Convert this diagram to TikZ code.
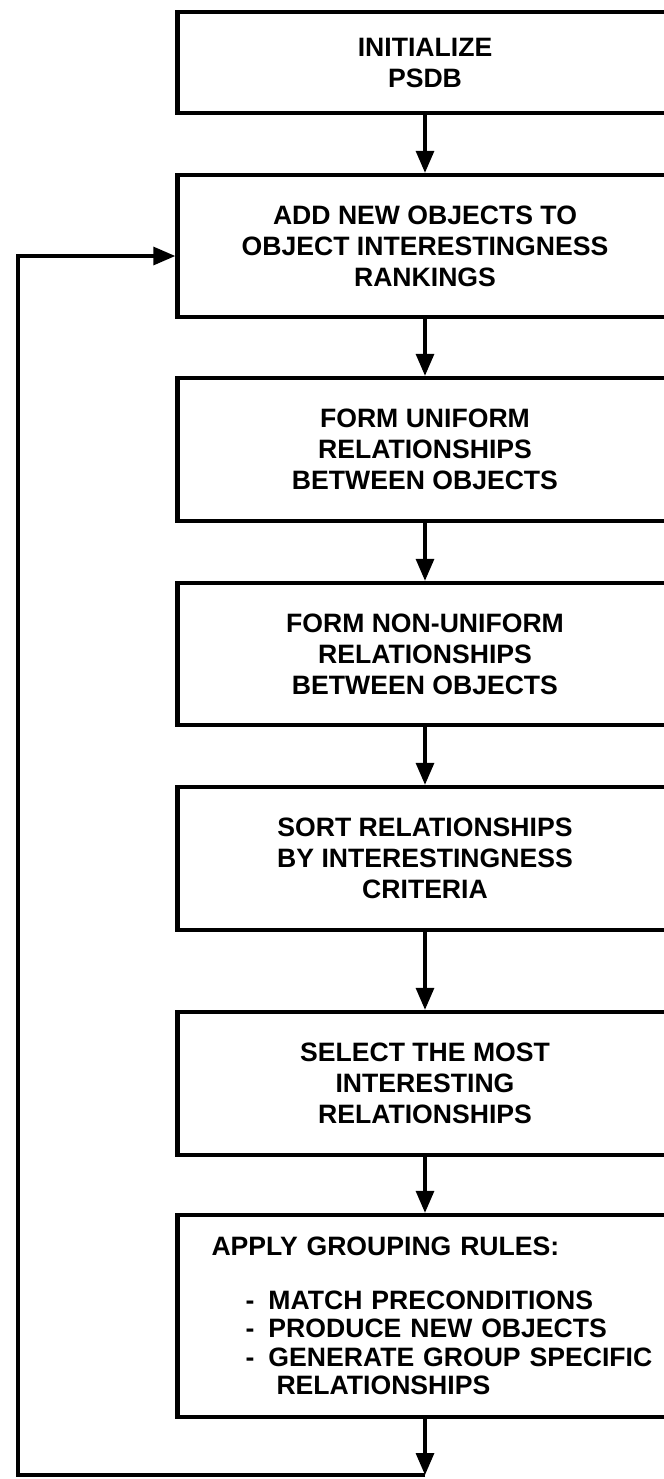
\documentclass[tikz,border=0pt]{standalone}
\usepackage{fontspec}
\setmainfont{Liberation Sans}
\usetikzlibrary{arrows.meta}

\newcommand{\grpitem}[1]{\mbox{\hspace*{17pt}\makebox[11.5pt][l]{-}#1}}

\begin{document}
\begin{tikzpicture}[x=0.5pt, y=-0.5pt,
	box/.style={draw, line width=2.2pt, minimum width=247.5pt, align=center, inner sep=0pt,
		font=\bfseries\fontsize{13.3}{15.5}\selectfont},
	flow/.style={line width=1.6pt, -{Triangle[length=11pt, width=9pt]}}]
	\clip (0,0) rectangle (664,1479);
	
	\node[box, minimum height=50.5pt] (init) at (425,62.5) {INITIALIZE\\PSDB};
	\node[box, minimum height=71pt] (add) at (425,246) {ADD NEW OBJECTS TO\\OBJECT INTERESTINGNESS\\RANKINGS};
	\node[box, minimum height=71.5pt] (unif) at (425,449.5) {FORM UNIFORM\\RELATIONSHIPS\\BETWEEN OBJECTS};
	\node[box, minimum height=71pt] (nonunif) at (425,654) {FORM NON-UNIFORM\\RELATIONSHIPS\\BETWEEN OBJECTS};
	\node[box, minimum height=71.5pt] (sort) at (425,858.5) {SORT RELATIONSHIPS\\BY INTERESTINGNESS\\CRITERIA};
	\node[box, minimum height=71.5pt] (select) at (425,1083.5) {SELECT THE MOST\\INTERESTING\\RELATIONSHIPS};
	\node[box, minimum height=101pt, text width=213.5pt, inner xsep=17pt, align=left,
		font=\bfseries\fontsize{13.3}{14.25}\selectfont] (grp) at (425,1316)
		{APPLY GROUPING RULES:\\[12.75pt]
		\grpitem{MATCH PRECONDITIONS}\\
		\grpitem{PRODUCE NEW OBJECTS}\\
		\grpitem{GENERATE GROUP SPECIFIC}\\
		\hspace*{32.5pt}RELATIONSHIPS};
	
	\coordinate (loopend) at (425,1475);
	\coordinate (loopleft) at (18,1475);
	
	\draw[flow] (init) -- (add);
	\draw[flow] (add) -- (unif);
	\draw[flow] (unif) -- (nonunif);
	\draw[flow] (nonunif) -- (sort);
	\draw[flow] (sort) -- (select);
	\draw[flow] (select) -- (grp);
	\draw[flow] (grp) -- (loopend);
	\draw[flow] (loopend) -- (loopleft) |- ([yshift=-5pt]add.west);
	
\end{tikzpicture}
\end{document}
